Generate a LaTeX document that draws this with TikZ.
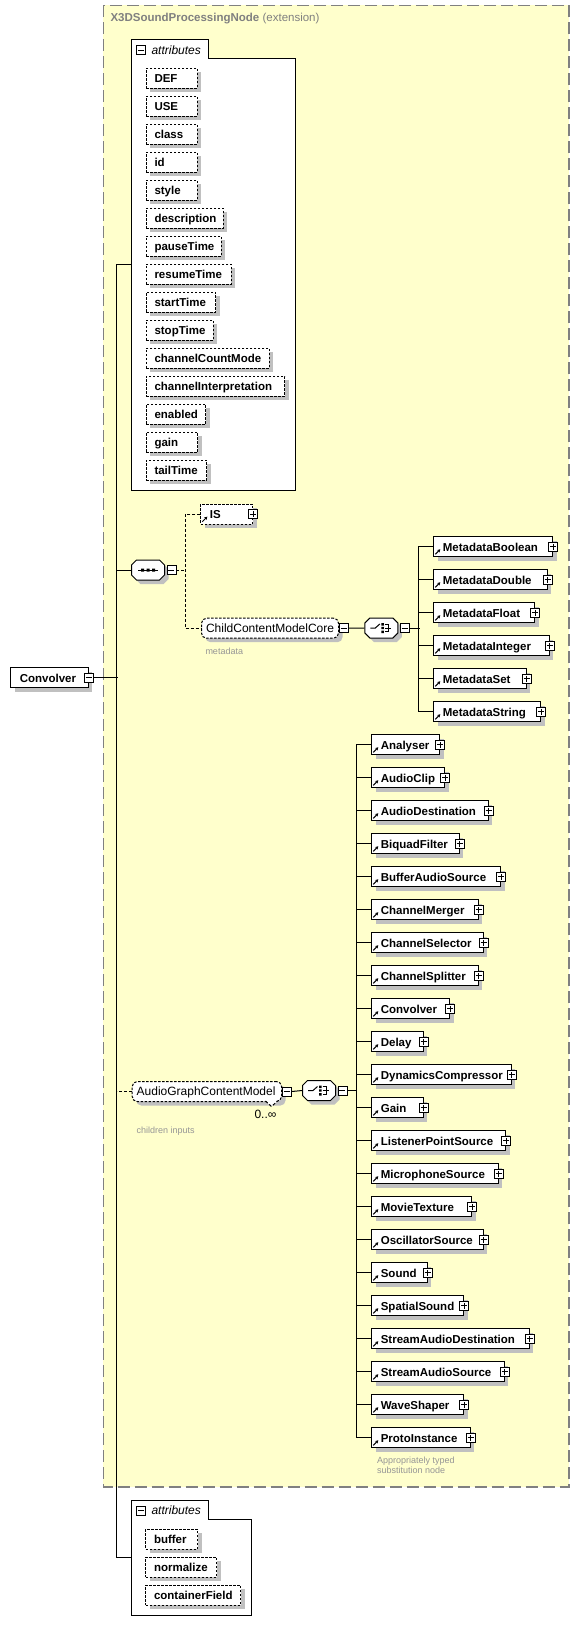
\documentclass[tikz,border=0pt]{standalone}
\usepackage{fontspec}
\setmainfont{Liberation Sans}
\usetikzlibrary{positioning,shadows,arrows.meta}

\definecolor{bgyellow}{RGB}{255,255,204}
\definecolor{shadowgray}{RGB}{192,192,192}
\definecolor{framegray}{RGB}{128,128,128}
\definecolor{notegray}{RGB}{150,150,150}

\tikzset{
  base/.style={draw, fill=white, anchor=north west, minimum height=20pt, inner ysep=0pt,
    text height=10pt, text depth=1.5pt, align=left,
    general shadow={fill=shadowgray, shadow xshift=4pt, shadow yshift=-4pt}},
  icon/.style={solid, line width=1pt, -{Stealth[length=3pt,width=3.5pt]}},
  plusbox/.style={draw, solid, fill=white, line width=0.8pt, minimum size=9pt, inner sep=0pt,
    path picture={\draw[solid, line width=0.8pt] (path picture bounding box.center) +(-3,0) -- +(3,0) +(0,-3) -- +(0,3);}},
  minusbox/.style={draw, solid, fill=white, line width=0.8pt, minimum size=9pt, inner sep=0pt,
    path picture={\draw[solid, line width=0.8pt] (path picture bounding box.center) +(-3,0) -- +(3,0);}},
  root/.style={base, inner xsep=9pt, text width=#1pt, font=\bfseries\fontsize{11.5}{13}\selectfont},
  elem/.style={root=#1,
    path picture={\draw[icon] ([shift={(1.5,-2.5)}]path picture bounding box.south west) -- ([shift={(6.5,-7.5)}]path picture bounding box.south west);},
    append after command={(\tikzlastnode.east) node[plusbox] {}}},
  optelem/.style={elem=#1, dash pattern=on 2.5pt off 1.5pt},
  attr/.style={base, dash pattern=on 2.5pt off 1.5pt, inner xsep=8.5pt, text width=#1pt,
    font=\bfseries\fontsize{11.5}{13}\selectfont},
  group/.style={base, dash pattern=on 2.5pt off 1.5pt, rounded corners=5pt, inner xsep=4.5pt,
    text width=#1pt, font=\fontsize{12}{14}\selectfont},
  octa/.style={minimum width=33pt, minimum height=20pt, inner sep=0pt},
  seqnode/.style={octa, append after command={\pgfextra{
    \fill[shadowgray] (\tikzlastnode.center) ++(-12.5,-1) -- ++(5,-5) -- ++(23,0) -- ++(5,5) -- ++(0,10) -- ++(-5,5) -- ++(-23,0) -- ++(-5,-5) -- cycle;
    \draw[fill=white] (\tikzlastnode.center) ++(-16.5,-5) -- ++(5,-5) -- ++(23,0) -- ++(5,5) -- ++(0,10) -- ++(-5,5) -- ++(-23,0) -- ++(-5,-5) -- cycle;
    \draw (\tikzlastnode.center) +(-10,0) -- +(10,0);
    \fill[black] (\tikzlastnode.center) +(-7,-1.5) rectangle +(-4,1.5)
      +(-1.5,-1.5) rectangle +(1.5,1.5) +(4,-1.5) rectangle +(7,1.5);}}},
  choicenode/.style={octa, append after command={\pgfextra{
    \fill[shadowgray] (\tikzlastnode.center) ++(-12.5,-1) -- ++(5,-5) -- ++(23,0) -- ++(5,5) -- ++(0,10) -- ++(-5,5) -- ++(-23,0) -- ++(-5,-5) -- cycle;
    \draw[fill=white] (\tikzlastnode.center) ++(-16.5,-5) -- ++(5,-5) -- ++(23,0) -- ++(5,5) -- ++(0,10) -- ++(-5,5) -- ++(-23,0) -- ++(-5,-5) -- cycle;
    \draw (\tikzlastnode.center) +(-11,0) -- +(-6,0) -- +(-1.5,-4);
    \fill[black] (\tikzlastnode.center) +(0,-5) rectangle +(2.5,-2.5)
      +(0,-1.2) rectangle +(2.5,1.2) +(0,2.5) rectangle +(2.5,5);
    \draw (\tikzlastnode.center) +(3.5,-3.8) -- +(7,-3.8) -- +(7,3.8) -- +(3.5,3.8)
      +(3.5,0) -- +(10,0);}}},
  panel/.style={inner sep=0pt, outer sep=0pt},
  tablabel/.style={anchor=west, inner sep=0pt, font=\itshape\fontsize{12}{14}\selectfont},
  note/.style={anchor=west, inner sep=0pt, align=left, text=notegray, font=\fontsize{9}{10.7}\selectfont},
  optlink/.style={dash pattern=on 3pt off 2pt},
}

\begin{document}
\begin{tikzpicture}[x=1pt, y=-1pt, line width=1pt]
\fill[white] (0,0) rectangle (580,1635);

% extension frame
\draw[framegray, fill=bgyellow, line width=1.2pt, dash pattern=on 12pt off 5pt] (103.3,5.3) rectangle (569,1487);
\node[anchor=west, inner sep=0pt, text=framegray, font=\fontsize{11.5}{13}\selectfont] at (110,19) (Title) {\textbf{X3DSoundProcessingNode} (extension)};

% root element
\node[root=59.4] at (10.3,667.3) (Conv) {Convolver};
\node[minusbox] at (Conv.east) (ConvM) {};

% inherited attributes
\node[panel, minimum width=164pt, minimum height=450.7pt] at (213.7,264.65) (AttrsA) {};
\draw[fill=white] (AttrsA.north west) -- ++(76.6,0) -- ++(0,19.4) -| (AttrsA.south east) -- (AttrsA.south west) -- cycle;
\node[minusbox] at (141.3,50) (TabAM) {};
\node[tablabel] at (151,50) (TabA) {attributes};
\node[attr=34] at (145.5,67.7) (Attr1) {DEF};
\node[attr=34] at (145.5,95.7) (Attr2) {USE};
\node[attr=34] at (145.5,123.7) (Attr3) {class};
\node[attr=34] at (145.5,151.7) (Attr4) {id};
\node[attr=34] at (145.5,179.7) (Attr5) {style};
\node[attr=60] at (145.5,207.7) (Attr6) {description};
\node[attr=58.2] at (145.5,235.7) (Attr7) {pauseTime};
\node[attr=68.2] at (145.5,263.7) (Attr8) {resumeTime};
\node[attr=52.5] at (145.5,291.7) (Attr9) {startTime};
\node[attr=50.2] at (145.5,319.7) (Attr10) {stopTime};
\node[attr=106.2] at (145.5,347.7) (Attr11) {channelCountMode};
\node[attr=121.5] at (145.5,375.7) (Attr12) {channelInterpretation};
\node[attr=42.5] at (145.5,403.7) (Attr13) {enabled};
\node[attr=34.5] at (145.5,431.7) (Attr14) {gain};
\node[attr=43.5] at (145.5,459.7) (Attr15) {tailTime};

% sequence: IS and metadata
\node[seqnode] at (148,570) (Seq) {};
\node[minusbox, right=1.5pt of Seq] (SeqM) {};
\node[optelem=34] at (200.3,503.7) (IS) {IS};
\node[group=128] at (201,617.7) (Core) {ChildContentModelCore};
\node[minusbox, right=0pt of Core] (CoreM) {};
\node[note] at (205,651) (CoreNote) {metadata};
\node[choicenode] at (381.3,628) (Choice1) {};
\node[minusbox, right=1.5pt of Choice1] (Choice1M) {};
\node[elem=100.7] at (433.3,536.3) (Meta1) {MetadataBoolean};
\node[elem=95.4] at (433.3,569.3) (Meta2) {MetadataDouble};
\node[elem=82.7] at (433.3,602.3) (Meta3) {MetadataFloat};
\node[elem=97.4] at (433.3,635.3) (Meta4) {MetadataInteger};
\node[elem=74.4] at (433.3,668.3) (Meta5) {MetadataSet};
\node[elem=89] at (433.3,701.3) (Meta6) {MetadataString};

% audio graph children
\node[group=140.3] at (131.7,1081) (Audio) {AudioGraphContentModel};
\node[minusbox, right=0pt of Audio] (AudioM) {};
\draw[optlink, fill=white] (265.5,1101) -- (271.5,1106.5) -- (277.5,1101);
\node[anchor=west, inner sep=0pt, font=\fontsize{12}{14}\selectfont] at (254,1114) (AudioCard) {0..∞};
\node[note] at (136,1130.7) (AudioNote) {children inputs};
\node[choicenode] at (319,1090.5) (Choice2) {};
\node[minusbox, right=1.5pt of Choice2] (Choice2M) {};
\node[elem=49.7] at (371.3,734.3) (Audio1) {Analyser};
\node[elem=54.7] at (371.3,767.3) (Audio2) {AudioClip};
\node[elem=98.4] at (371.3,800.3) (Audio3) {AudioDestination};
\node[elem=69.4] at (371.3,833.3) (Audio4) {BiquadFilter};
\node[elem=110.7] at (371.3,866.3) (Audio5) {BufferAudioSource};
\node[elem=88.4] at (371.3,899.3) (Audio6) {ChannelMerger};
\node[elem=93.4] at (371.3,932.3) (Audio7) {ChannelSelector};
\node[elem=88.4] at (371.3,965.3) (Audio8) {ChannelSplitter};
\node[elem=59.7] at (371.3,998.3) (Audio9) {Convolver};
\node[elem=33.4] at (371.3,1031.3) (Audio10) {Delay};
\node[elem=121.4] at (371.3,1064.3) (Audio11) {DynamicsCompressor};
\node[elem=33.4] at (371.3,1097.3) (Audio12) {Gain};
\node[elem=115.7] at (371.3,1130.3) (Audio13) {ListenerPointSource};
\node[elem=108.4] at (371.3,1163.3) (Audio14) {MicrophoneSource};
\node[elem=81.7] at (371.3,1196.3) (Audio15) {MovieTexture};
\node[elem=93.4] at (371.3,1229.3) (Audio16) {OscillatorSource};
\node[elem=37.4] at (371.3,1262.3) (Audio17) {Sound};
\node[elem=74] at (371.3,1295.3) (Audio18) {SpatialSound};
\node[elem=139.4] at (371.3,1328.3) (Audio19) {StreamAudioDestination};
\node[elem=114.4] at (371.3,1361.3) (Audio20) {StreamAudioSource};
\node[elem=73.7] at (371.3,1394.3) (Audio21) {WaveShaper};
\node[elem=80.4] at (371.3,1427.3) (Audio22) {ProtoInstance};
\node[note] at (376.7,1465.3) (ProtoNote) {Appropriately typed\\substitution node};

% own attributes
\node[panel, minimum width=120pt, minimum height=114.7pt] at (191.7,1557.65) (AttrsB) {};
\draw[fill=white] (AttrsB.north west) -- ++(76.6,0) -- ++(0,18.7) -| (AttrsB.south east) -- (AttrsB.south west) -- cycle;
\node[minusbox] at (141.3,1510.5) (TabBM) {};
\node[tablabel] at (151,1510.5) (TabB) {attributes};
\node[attr=35] at (145,1528.7) (Own1) {buffer};
\node[attr=54] at (145,1556.7) (Own2) {normalize};
\node[attr=78] at (145,1584.7) (Own3) {containerField};

% connectors
\draw (ConvM.east) -- ++(24,0);
\draw (AttrsA.west) -- ++(-15,0) |- (AttrsB.west);
\draw (Seq.west) -- ++(-15,0);
\draw[optlink] (Audio.west) -- ++(-15,0);
\draw[optlink] (SeqM.east) -- ++(9.3,0);
\draw[optlink] (IS.west) -- ++(-15.3,0) |- (Core.west);
\draw (CoreM.east) -- (Choice1.west);
\draw (Choice1M.east) -- ++(10,0);
\draw (Meta1.west) -- ++(-15,0) |- (Meta6.west);
\draw (Meta2.west) -- ++(-15,0);
\draw (Meta3.west) -- ++(-15,0);
\draw (Meta4.west) -- ++(-15,0);
\draw (Meta5.west) -- ++(-15,0);
\draw (AudioM.east) -- (Choice2.west);
\draw (Choice2M.east) -- ++(9.3,0);
\draw (Audio1.west) -- ++(-15.3,0) |- (Audio22.west);
\draw (Audio2.west) -- ++(-15.3,0);
\draw (Audio3.west) -- ++(-15.3,0);
\draw (Audio4.west) -- ++(-15.3,0);
\draw (Audio5.west) -- ++(-15.3,0);
\draw (Audio6.west) -- ++(-15.3,0);
\draw (Audio7.west) -- ++(-15.3,0);
\draw (Audio8.west) -- ++(-15.3,0);
\draw (Audio9.west) -- ++(-15.3,0);
\draw (Audio10.west) -- ++(-15.3,0);
\draw (Audio11.west) -- ++(-15.3,0);
\draw (Audio12.west) -- ++(-15.3,0);
\draw (Audio13.west) -- ++(-15.3,0);
\draw (Audio14.west) -- ++(-15.3,0);
\draw (Audio15.west) -- ++(-15.3,0);
\draw (Audio16.west) -- ++(-15.3,0);
\draw (Audio17.west) -- ++(-15.3,0);
\draw (Audio18.west) -- ++(-15.3,0);
\draw (Audio19.west) -- ++(-15.3,0);
\draw (Audio20.west) -- ++(-15.3,0);
\draw (Audio21.west) -- ++(-15.3,0);
\pgfresetboundingbox
\useasboundingbox (0,0) rectangle (580,1635);
\end{tikzpicture}
\end{document}
